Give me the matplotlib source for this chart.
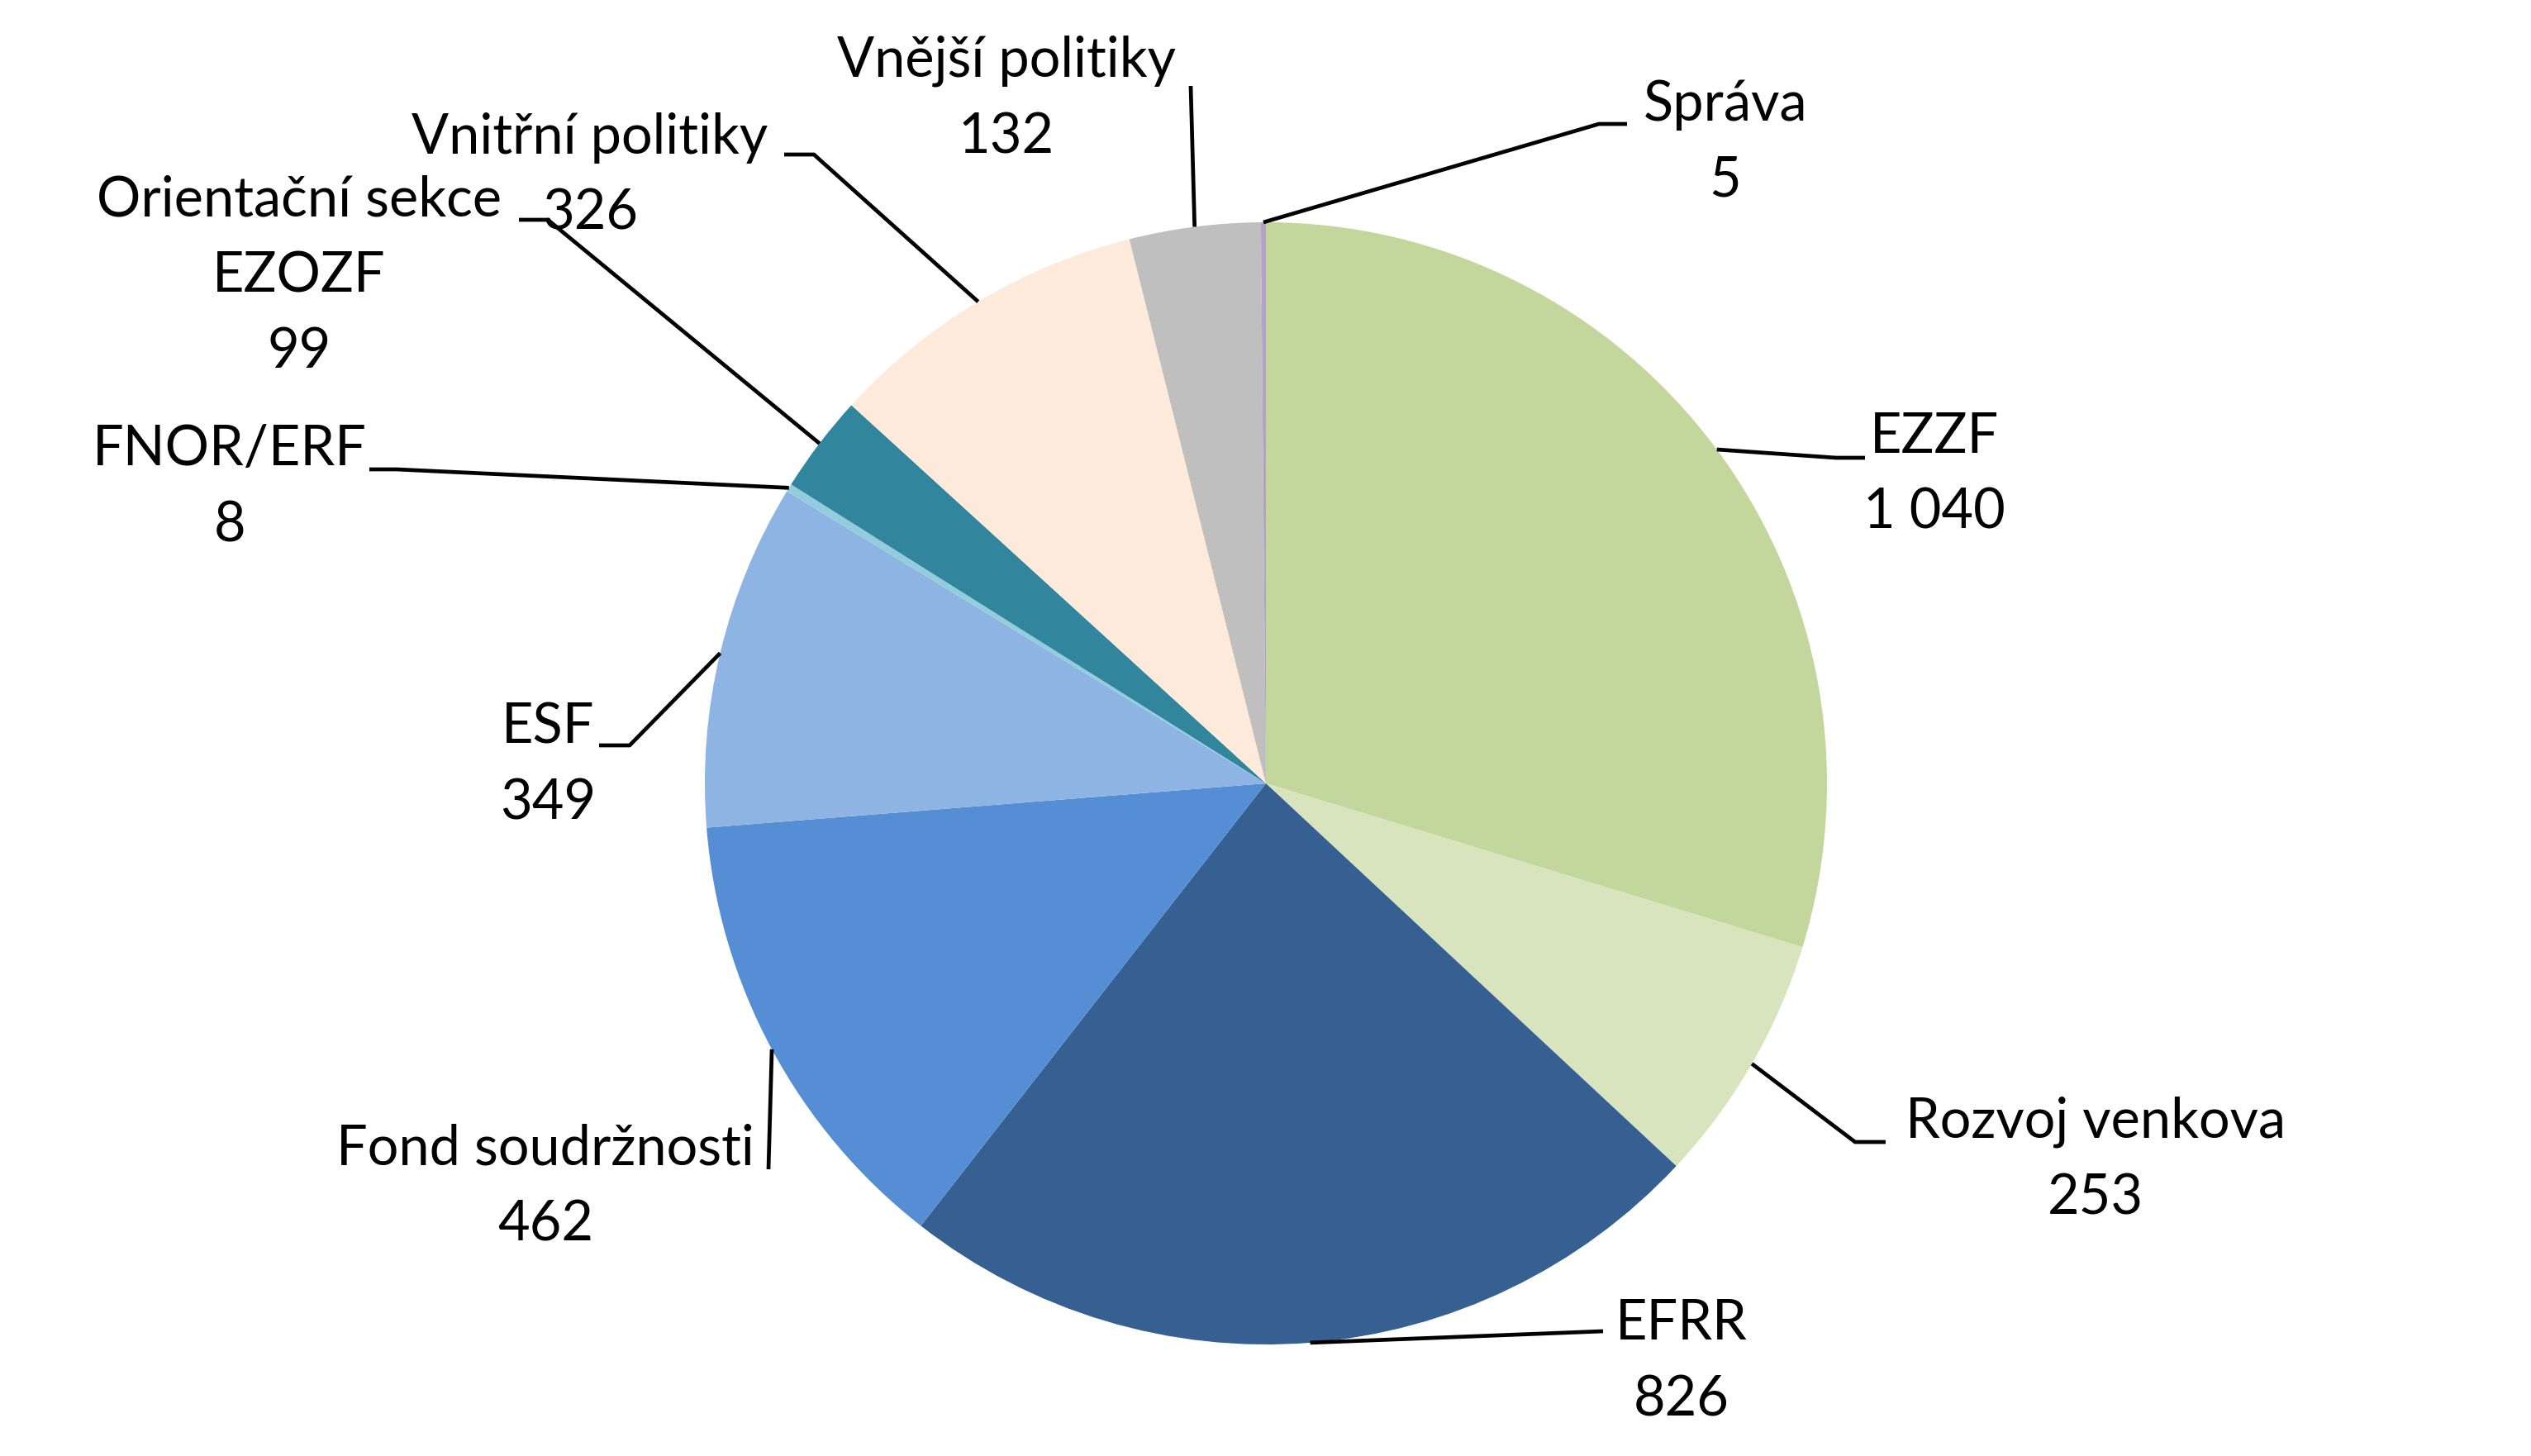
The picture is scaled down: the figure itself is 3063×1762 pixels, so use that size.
import numpy as np
import matplotlib
matplotlib.use("Agg")
import matplotlib.pyplot as plt

labels = ['EZZF', 'Rozvoj venkova', 'EFRR', 'Fond soudržnosti', 'ESF', 'FNOR/ERF',
          'Orientační sekce\nEZOZF', 'Vnitřní politiky', 'Vnější politiky', 'Správa']
values = [1040, 253, 826, 462, 349, 8, 99, 326, 132, 5]
value_text = ['1 040', '253', '826', '462', '349', '8', '99', '326', '132', '5']
colors = ['#C3D69B', '#D7E4BD', '#376092', '#558ED5', '#8EB4E3', '#93CDDD',
          '#31859C', '#FDEADA', '#BFBFBF', '#B3A2C7']

# label block centres and leader elbows, in pixels from top-left
label_pos = [(2341, 575), (2536, 1404), (2035, 1648), (660, 1437), (663, 926),
             (278, 590), (362, 334), (714, 213), (1218, 120), (2088, 173)]
elbows = [[(2222, 554), (2257, 554)],
          [(2245, 1382), (2282, 1382)],
          [(1940, 1611)],
          [(930, 1415)],
          [(762, 902), (725, 902)],
          [(480, 568), (447, 568)],
          [(663, 266), (628, 266)],
          [(985, 187), (949, 187)],
          [(1441, 104)],
          [(1935, 150), (1969, 150)]]

W, H = 3063, 1762
cx, cy, r = 1532, 948, 679

plt.rcParams['font.family'] = ['Lato', 'DejaVu Sans']
fig = plt.figure(figsize=(W / 100, H / 100), dpi=100)
ax = fig.add_axes([0, 0, 1, 1])

wedges, _ = ax.pie(values, colors=colors, startangle=-90, counterclock=True,
                   center=(cx, cy), radius=r, wedgeprops=dict(linewidth=0))
ax.set_xlim(0, W)
ax.set_ylim(H, 0)
ax.set_aspect('equal')
ax.axis('off')

for w, lab, val, pos, pts in zip(wedges, labels, value_text, label_pos, elbows):
    ang = np.deg2rad((w.theta1 + w.theta2) / 2)
    x0 = cx + r * np.cos(ang)
    y0 = cy + r * np.sin(ang)
    xs = [x0] + [p[0] for p in pts]
    ys = [y0] + [p[1] for p in pts]
    ax.plot(xs, ys, color='black', lw=3.4, solid_capstyle='butt')
    ax.text(pos[0], pos[1], lab + '\n' + val, ha='center', va='center',
            multialignment='center', fontsize=48, linespacing=1.6, color='black')

fig.savefig('out.png', dpi=100, facecolor='white')
